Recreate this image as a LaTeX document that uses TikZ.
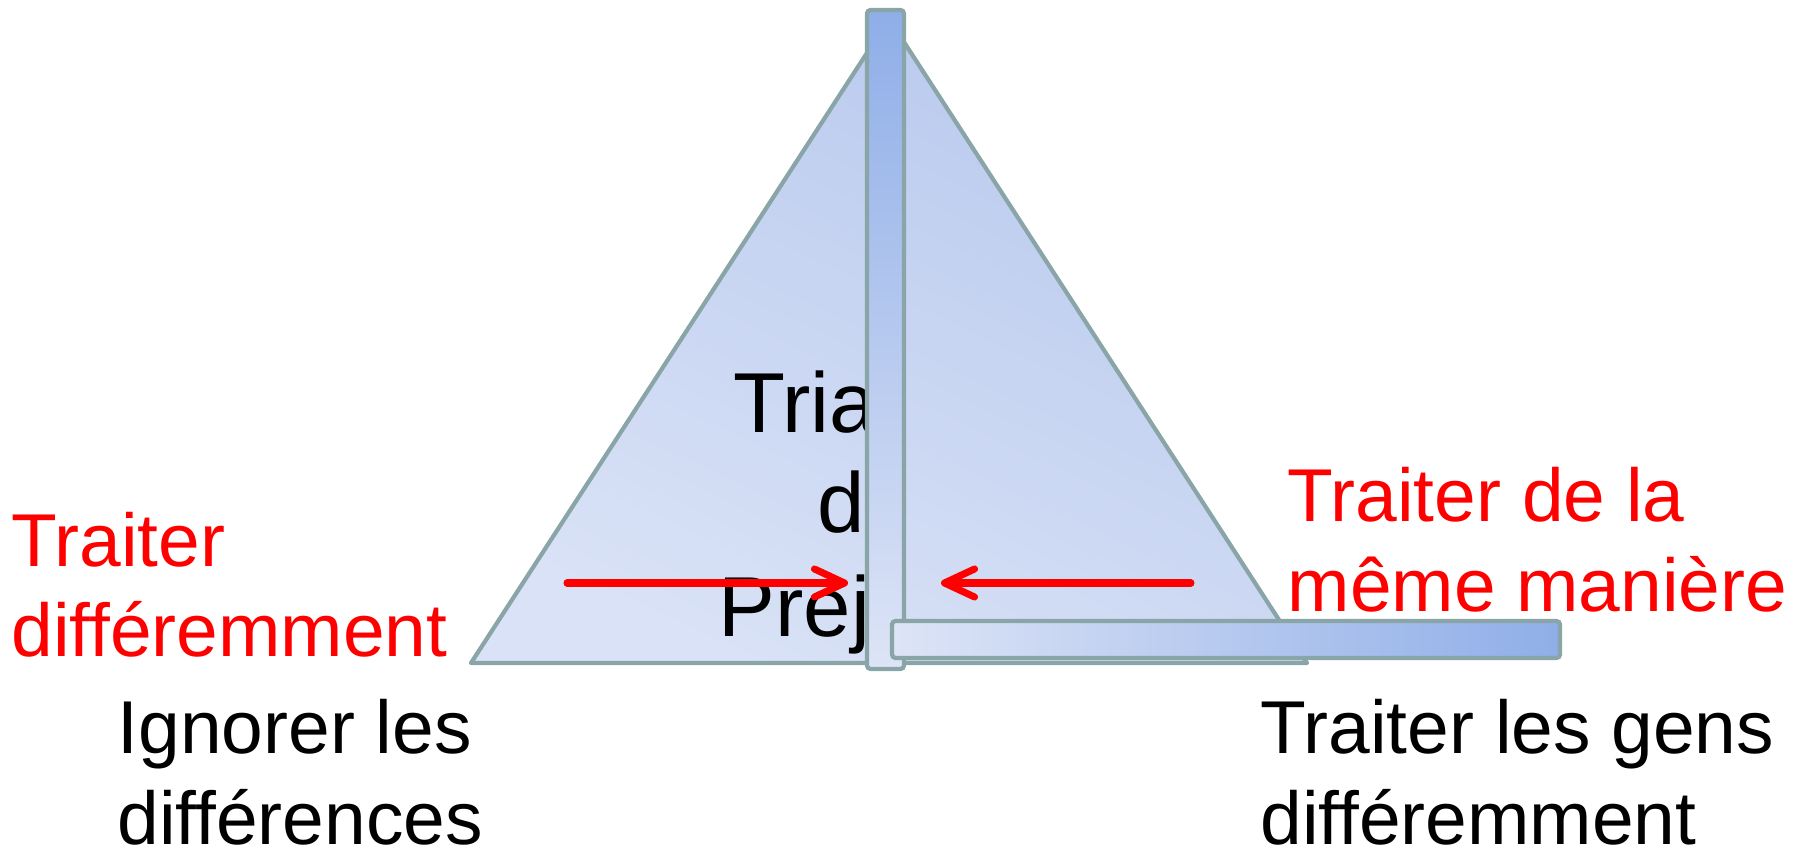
\documentclass[tikz,border=0pt]{standalone}
\usepackage{fontspec}
\setmainfont{Liberation Sans}
\usetikzlibrary{arrows.meta,positioning}
\definecolor{edge}{HTML}{8AA5A7}
\definecolor{barblue}{HTML}{8FAEE8}
\definecolor{barpale}{HTML}{DDE4F6}
\definecolor{tridark}{HTML}{B8C9EE}
\definecolor{trilight}{HTML}{D9E2F6}
\definecolor{alarm}{HTML}{FF0000}

\begin{document}
\begin{tikzpicture}[x=0.01cm, y=-0.01cm,
  bigtext/.style={font=\fontsize{21.3}{25.6}\selectfont, inner sep=0pt, align=left, anchor=base west},
  redtext/.style={bigtext, text=alarm},
  sailtext/.style={font=\fontsize{24.2}{29}\selectfont, inner sep=0pt, anchor=base west},
  bar/.style={draw=edge, line width=1.2pt, rounded corners=1pt},
  push/.style={draw=alarm, line width=2pt, line cap=round, -{Straight Barb[round, length=3mm, width=2.8mm]}}]
  \useasboundingbox (0,0) rectangle (1814,861);

  % the triangle
  \shade[draw=edge, line width=1.2pt, line join=round, top color=tridark, bottom color=trilight, shading angle=-25]
    (471,663) -- (889,19) -- (1307,663) -- cycle;
  \node[sailtext] (tria) at (733,433) {Tria};
  \node[sailtext] (triad) at (817,533) {d};
  \node[sailtext] (triap) at (718,637) {Prej};

  % the two bars
  \shade[bar, top color=barblue, bottom color=barpale] (867,10) rectangle (904,669);
  \shade[bar, left color=barpale, right color=barblue] (892,621) rectangle (1560,658);

  % arrows
  \coordinate (lfrom) at (567,583);
  \coordinate (lto) at (848,583);
  \coordinate (rfrom) at (1191,583);
  \coordinate (rto) at (941,583);
  \draw[push] (lfrom) -- (lto);
  \draw[push] (rfrom) -- (rto);

  % labels (base = last line)
  \node[redtext] (diff) at (11,657) {Traiter\\différemment};
  \node[redtext] (same) at (1287,612) {Traiter de la\\même manière};
  \node[bigtext] (ignore) at (117,844) {Ignorer les\\différences};
  \node[bigtext] (people) at (1260,844) {Traiter les gens\\différemment};
\end{tikzpicture}
\end{document}
